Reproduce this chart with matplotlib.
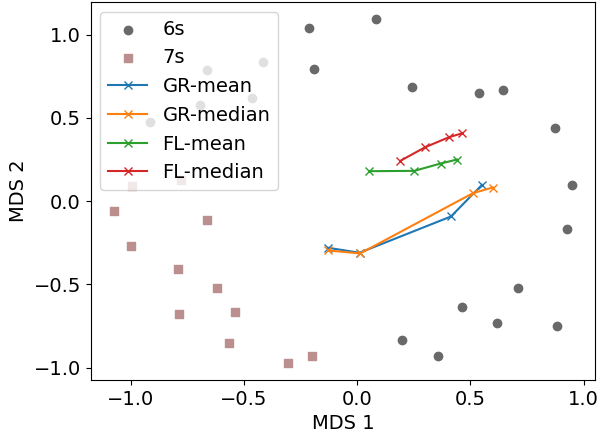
import matplotlib
matplotlib.use("Agg")
import matplotlib.pyplot as plt
from matplotlib.ticker import MultipleLocator

# MDS coordinates of the 6s samples
six_x = [-0.212, 0.081, -0.190, 0.243, 0.539, 0.645, 0.875, 0.950, 0.928, 0.711,
         0.464, 0.619, 0.882, 0.199, 0.358, -0.664, -0.415, -0.695, -0.467, -0.915]
six_y = [1.042, 1.092, 0.796, 0.688, 0.652, 0.670, 0.442, 0.097, -0.170, -0.521,
         -0.635, -0.731, -0.752, -0.836, -0.932, 0.788, 0.838, 0.578, 0.620, 0.474]

# MDS coordinates of the 7s samples
seven_x = [-0.996, -0.779, -1.077, -0.664, -1.002, -0.790, -0.622, -0.787, -0.540,
           -0.566, -0.304, -0.198]
seven_y = [0.094, 0.130, -0.062, -0.112, -0.272, -0.410, -0.522, -0.675, -0.666,
           -0.849, -0.972, -0.932]

# averaged trajectories
gr_mean_x = [-0.129, 0.010, 0.414, 0.551]
gr_mean_y = [-0.280, -0.310, -0.092, 0.098]
gr_median_x = [-0.129, 0.013, 0.511, 0.598]
gr_median_y = [-0.296, -0.314, 0.048, 0.082]
fl_mean_x = [0.054, 0.252, 0.368, 0.441]
fl_mean_y = [0.180, 0.182, 0.226, 0.250]
fl_median_x = [0.190, 0.300, 0.405, 0.464]
fl_median_y = [0.242, 0.324, 0.384, 0.408]

plt.rcParams['font.size'] = 14

fig, ax = plt.subplots(figsize=(6, 4.33), dpi=100)
fig.subplots_adjust(left=0.151, right=0.992, top=0.995, bottom=0.122)

ax.scatter(six_x, six_y, color='dimgray', marker='o', label='6s')
ax.scatter(seven_x, seven_y, color='rosybrown', marker='s', label='7s')
ax.plot(gr_mean_x, gr_mean_y, marker='x', label='GR-mean')
ax.plot(gr_median_x, gr_median_y, marker='x', label='GR-median')
ax.plot(fl_mean_x, fl_mean_y, marker='x', label='FL-mean')
ax.plot(fl_median_x, fl_median_y, marker='x', label='FL-median')

ax.xaxis.set_major_locator(MultipleLocator(0.5))
ax.yaxis.set_major_locator(MultipleLocator(0.5))
ax.set_xlabel('MDS 1')
ax.set_ylabel('MDS 2')
ax.legend(loc='upper left')

plt.savefig('out.png', dpi=100)
